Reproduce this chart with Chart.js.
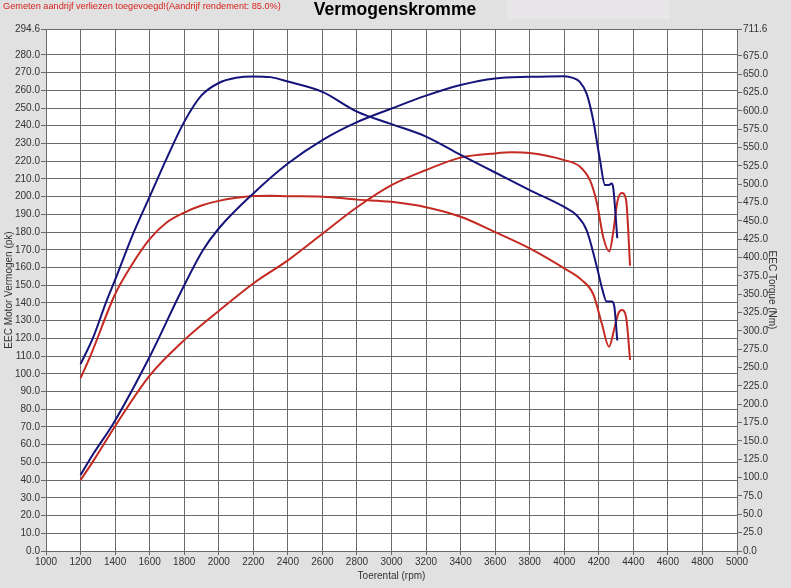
<!DOCTYPE html>
<html><head><meta charset="utf-8">
<script src="https://cdn.jsdelivr.net/npm/chart.js@4/dist/chart.umd.min.js"></script>
<style>html,body{margin:0;padding:0;background:#e1e1e1;overflow:hidden}</style>
</head><body>
<canvas id="c" width="791" height="588"></canvas>
<script>
// ---- Data ----
const leftTicks = [0,10,20,30,40,50,60,70,80,90,100,110,120,130,140,150,160,170,180,190,200,210,220,230,240,250,260,270,280,294.6];
const rightTicks = [0,25,50,75,100,125,150,175,200,225,250,275,300,325,350,375,400,425,450,475,500,525,550,575,600,625,650,675,711.6];
const xTicks = [1000,1200,1400,1600,1800,2000,2200,2400,2600,2800,3000,3200,3400,3600,3800,4000,4200,4400,4600,4800,5000];

// Blue power (pk)
const bluePowerRpm = [1200,1275,1390,1600,1785,1910,2000,2200,2400,2600,2800,3000,3200,3400,3600,3800,4000,4050,4090,4130,4168,4207,4236,4255,4275,4284,4307];
const bluePowerPk  = [42.9,55,72,109.6,147,170,182,201.8,218.7,231.9,242,249.7,257,263,266.7,267.6,268,267,264.8,258,243,220.6,206.5,206.5,207.4,204.6,176.5];

// Blue torque (Nm)
const blueTorqueRpm = [1200,1275,1350,1400,1500,1600,1700,1800,1900,2000,2100,2200,2300,2400,2600,2800,3000,3200,3400,3600,3800,4000,4070,4130,4190,4220,4245,4275,4290,4307];
const blueTorqueNm  = [254.8,292.3,340.6,369.6,430,483,536,585,621,638,645,647,646,640,626,599,582,565,540,516,492,469,458,437,386,357,340,340,333,287];

// Red power (pk)
const redPowerRpm = [1200,1275,1410,1600,1800,2000,2200,2400,2600,2800,3000,3200,3400,3600,3700,3800,4000,4090,4150,4190,4226,4261,4285,4307,4333,4358,4381];
const redPowerPk  = [40,51,72,99,119,135.5,151,164,179,194,206.5,215,222,224.4,225,224.6,220.6,217,209,196,177,169,181,197,202,198,161];

// Red torque (Nm)
const redTorqueRpm = [1200,1255,1400,1500,1600,1700,1800,1900,2000,2200,2300,2400,2600,2800,3000,3200,3400,3600,3800,4000,4100,4168,4217,4259,4288,4313,4333,4358,4381];
const redTorqueNm  = [235.8,264.7,350,391.3,425.1,448.1,461.4,471,477.3,483.8,484.3,483.6,483,479,476,468.6,455.6,434.8,412.6,385.3,369.6,350,310.4,278.5,301.2,323.7,328.5,318.8,260.4];

const headerNote = 'Gemeten aandrijf verliezen toegevoegd!(Aandrijf rendement: 85.0%)';
const chartTitle = 'Vermogenskromme';

// ---- Build ----
const zip = (xs, ys) => xs.map((x, i) => ({x: x, y: ys[i]}));
const BLUE = '#14147a';
const RED = '#c42a22';
const GRID = '#6a6a6a';
const TXT = '#333333';
const FONT = 'Arial, "Liberation Sans", sans-serif';

const bgPlugin = {
  id: 'bg',
  beforeDraw(chart) {
    const ctx = chart.ctx, a = chart.chartArea;
    ctx.save();
    ctx.fillStyle = '#e1e1e1';
    ctx.fillRect(0, 0, chart.width, chart.height);
    ctx.fillStyle = '#e8e6e8';
    ctx.fillRect(507, 0, 163, 19);
    ctx.fillStyle = '#ffffff';
    ctx.fillRect(a.left, a.top, a.right - a.left, a.bottom - a.top);
    ctx.restore();
  },
  afterDraw(chart) {
    const ctx = chart.ctx;
    ctx.save();
    ctx.textBaseline = 'middle';
    ctx.fillStyle = '#d8221c';
    ctx.font = '9.2px ' + FONT;
    ctx.textAlign = 'left';
    ctx.fillText(headerNote, 3, 6);
    ctx.fillStyle = '#000000';
    ctx.font = 'bold 17.5px ' + FONT;
    ctx.textAlign = 'center';
    ctx.fillText(chartTitle, 395, 10);
    ctx.restore();
  }
};

const fmt1 = v => Number(v).toFixed(1);

new Chart(document.getElementById('c'), {
  type: 'line',
  data: {
    datasets: [
      {label: 'Blue torque', data: zip(blueTorqueRpm, blueTorqueNm), yAxisID: 'y2', borderColor: BLUE},
      {label: 'Blue power', data: zip(bluePowerRpm, bluePowerPk), yAxisID: 'y', borderColor: BLUE},
      {label: 'Red torque', data: zip(redTorqueRpm, redTorqueNm), yAxisID: 'y2', borderColor: RED},
      {label: 'Red power', data: zip(redPowerRpm, redPowerPk), yAxisID: 'y', borderColor: RED}
    ]
  },
  options: {
    responsive: false,
    animation: false,
    devicePixelRatio: 1,
    layout: {padding: {top: 29, left: 0, right: 0, bottom: 0}},
    elements: {
      line: {borderWidth: 2, cubicInterpolationMode: 'monotone', fill: false},
      point: {radius: 0, hoverRadius: 0}
    },
    plugins: {legend: {display: false}, tooltip: {enabled: false}, title: {display: false}},
    scales: {
      x: {
        type: 'linear', min: 1000, max: 5000,
        afterBuildTicks: s => { s.ticks = xTicks.map(v => ({value: v})); },
        afterFit: s => { s.height = 37; },
        ticks: {color: TXT, font: {size: 10, family: FONT}, padding: 1, maxRotation: 0, autoSkip: false, callback: v => String(v)},
        grid: {color: GRID, tickColor: GRID, tickLength: 4, lineWidth: 1},
        border: {display: true, color: GRID},
        title: {display: true, text: 'Toerental (rpm)', color: TXT, font: {size: 10, family: FONT}, padding: {top: 0, bottom: 6}}
      },
      y: {
        type: 'linear', position: 'left', min: 0, max: 294.6,
        afterBuildTicks: s => { s.ticks = leftTicks.map(v => ({value: v})); },
        afterFit: s => { s.width = 46; },
        ticks: {color: TXT, font: {size: 10, family: FONT}, padding: 1, autoSkip: false, callback: fmt1},
        grid: {color: GRID, tickColor: GRID, tickLength: 5, lineWidth: 1},
        border: {display: true, color: GRID},
        title: {display: true, text: 'EEC Motor Vermogen (pk)', color: TXT, font: {size: 10, family: FONT}, padding: {top: 3, bottom: 0}}
      },
      y2: {
        type: 'linear', position: 'right', min: 0, max: 711.6,
        afterBuildTicks: s => { s.ticks = rightTicks.map(v => ({value: v})); },
        afterFit: s => { s.width = 54; },
        ticks: {color: TXT, font: {size: 10, family: FONT}, padding: 1, autoSkip: false, callback: fmt1},
        grid: {drawOnChartArea: false, color: GRID, tickColor: GRID, tickLength: 5},
        border: {display: true, color: GRID},
        title: {display: true, text: 'EEC Torque (Nm)', color: TXT, font: {size: 10, family: FONT}, padding: {top: 13, bottom: 0}}
      }
    }
  },
  plugins: [bgPlugin]
});
</script>
</body></html>
